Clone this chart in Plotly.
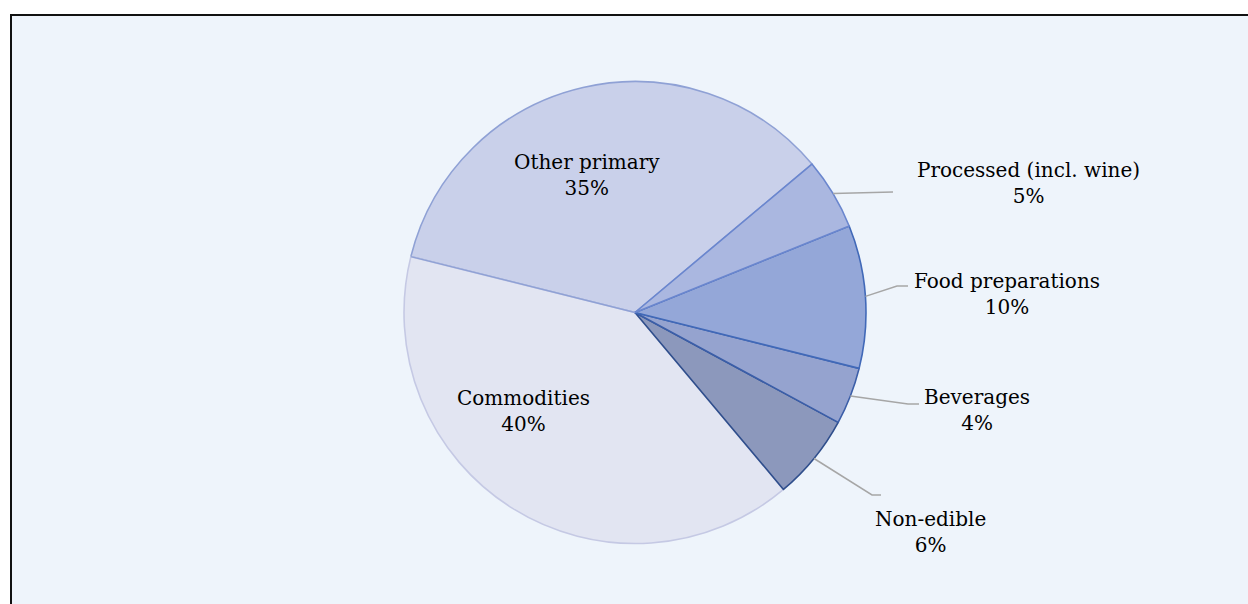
import math
import plotly.graph_objects as go

W, H = 1248, 604

# Share of exports by product group (percent), listed clockwise from the start angle
labels = ["Processed (incl. wine)", "Food preparations", "Beverages",
          "Non-edible", "Commodities", "Other primary"]
shares = [5, 10, 4, 6, 40, 35]

fill_colors = ["#AAB7E0", "#94A7D8", "#95A3CF", "#8C98BC", "#E2E5F2", "#C9D0EA"]
edge_colors = ["#6A86CE", "#4169B8", "#3B5EA8", "#2F4E8C", "#C5C9E4", "#8FA1D5"]

# Pie placement (pixels) and start angle (degrees clockwise from 12 o'clock)
CX, CY, R = 635, 312.5, 231
START = 50

# Label block centres (pixels) and leader-line elbows / ends for outside labels
label_centres = {
    "Processed (incl. wine)": (1028, 183),
    "Food preparations": (1007, 294),
    "Beverages": (977, 410),
    "Non-edible": (930, 532),
    "Commodities": (523, 411),
    "Other primary": (587, 175),
}
leader_paths = {
    "Processed (incl. wine)": [(893, 192)],
    "Food preparations": [(897, 286), (908, 286)],
    "Beverages": [(908, 404), (919, 404)],
    "Non-edible": [(872, 495), (881, 495)],
}


def px(x):
    return x / W


def py(y):
    return 1 - y / H


def rim_point(angle_deg):
    a = math.radians(angle_deg)
    return CX + R * math.sin(a), CY - R * math.cos(a)


total = sum(shares)

# Slices are passed in reverse and drawn counterclockwise so that the darker
# outlines of the small slices are painted over the lighter neighbours.
# In counterclockwise mode the first slice occupies [rotation, rotation + size].
rot_ccw = START - shares[-1] / total * 360

fig = go.Figure(go.Pie(
    labels=labels[::-1],
    values=shares[::-1],
    sort=False,
    direction="counterclockwise",
    rotation=rot_ccw,
    textinfo="none",
    hoverinfo="label+percent",
    marker=dict(colors=fill_colors[::-1],
                line=dict(color=edge_colors[::-1], width=1.6)),
    domain=dict(x=[px(CX - R), px(CX + R)], y=[py(CY + R), py(CY - R)]),
    showlegend=False,
))

# Chart area with frame on the top and left
shapes = [dict(type="rect", xref="paper", yref="paper",
               x0=px(11), y0=py(15), x1=px(W + 20), y1=py(H + 20),
               fillcolor="#EEF4FB", line=dict(color="#111111", width=2),
               layer="below")]

# Radial edge between the last and second-to-last slices in the outline colour
# of the last slice
edge_angle = START + (total - shares[-1]) / total * 360
ex, ey = rim_point(edge_angle)
shapes.append(dict(type="path", xref="paper", yref="paper",
                   path=f"M {px(CX)},{py(CY)} L {px(ex)},{py(ey)}",
                   line=dict(color=edge_colors[-1], width=1.4), layer="above"))

annotations = []
cum = 0
for lab, val in zip(labels, shares):
    mid_deg = START + (cum + val / 2) / total * 360
    cum += val
    if lab in leader_paths:
        pts = [rim_point(mid_deg)] + leader_paths[lab]
        path = "M " + " L ".join(f"{px(a)},{py(b)}" for a, b in pts)
        shapes.append(dict(type="path", xref="paper", yref="paper", path=path,
                           line=dict(color="#A6A6A6", width=1.5), layer="above"))
    lx, ly = label_centres[lab]
    annotations.append(dict(
        x=px(lx), y=py(ly), xref="paper", yref="paper",
        text=f"{lab}<br>{val:.0f}%", showarrow=False,
        xanchor="center", yanchor="middle", align="center",
        font=dict(family="DejaVu Serif", size=20, color="#000000"),
    ))

fig.update_layout(
    width=W, height=H,
    margin=dict(l=0, r=0, t=0, b=0),
    paper_bgcolor="#FFFFFF",
    plot_bgcolor="#FFFFFF",
    shapes=shapes,
    annotations=annotations,
)

fig.write_html("out.html")
